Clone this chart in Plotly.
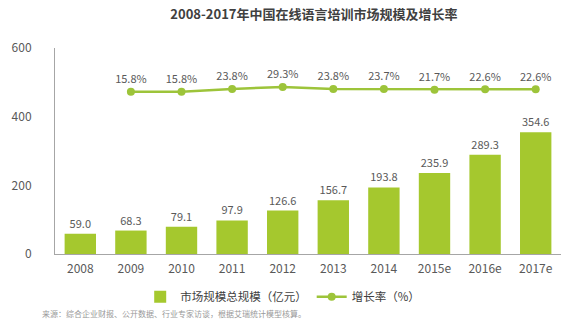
import plotly.graph_objects as go

years = ["2008", "2009", "2010", "2011", "2012", "2013", "2014", "2015e", "2016e", "2017e"]
market = [59.0, 68.3, 79.1, 97.9, 126.6, 156.7, 193.8, 235.9, 289.3, 354.6]
growth_years = ["2009", "2010", "2011", "2012", "2013", "2014", "2015e", "2016e", "2017e"]
growth = [15.8, 15.8, 23.8, 29.3, 23.8, 23.7, 21.7, 22.6, 22.6]

FONT = "Noto Sans CJK SC, Microsoft YaHei, sans-serif"
BAR_C = "#A5C82E"
LINE_C = "#9DC43A"

fig = go.Figure()
fig.add_trace(go.Bar(
    x=years, y=market, name="市场规模总规模（亿元）",
    marker=dict(color=BAR_C, line=dict(width=0)),
    text=[f"{v:.1f}" for v in market], textposition="outside",
    textfont=dict(size=11, color="#595959", family=FONT),
    cliponaxis=False, width=0.62,
))
fig.add_trace(go.Scatter(
    x=growth_years, y=growth, name="增长率（%）", yaxis="y2",
    mode="lines+markers+text",
    line=dict(color=LINE_C, width=2.5),
    marker=dict(color=LINE_C, size=8),
    text=[f"{v:.1f}%" for v in growth], textposition="top center",
    textfont=dict(size=11, color="#595959", family=FONT),
    cliponaxis=False,
))

fig.update_layout(
    width=576, height=323,
    margin=dict(l=41, r=15, t=48, b=68),
    paper_bgcolor="white", plot_bgcolor="white",
    font=dict(family=FONT, color="#595959"),
    title=dict(text="<b>2008-2017年中国在线语言培训市场规模及增长率</b>",
               x=0.545, xanchor="center", y=0.955, yanchor="middle",
               font=dict(size=13, color="#404040", family=FONT)),
    xaxis=dict(showgrid=False, showline=True, linecolor="#A6A6A6", linewidth=1,
               ticks="", tickfont=dict(size=12, color="#595959"),
               range=[-0.5, 9.5], ticklabelstandoff=4),
    yaxis=dict(range=[0, 600], tickvals=[0, 200, 400, 600], showgrid=False,
               showline=True, linecolor="#A6A6A6", linewidth=1, ticks="",
               zeroline=False, tickfont=dict(size=12, color="#595959"),
               ticklabelstandoff=20),
    yaxis2=dict(overlaying="y", range=[-425, 135], visible=False, showgrid=False),
    showlegend=True,
    legend=dict(orientation="h", x=0.45, xanchor="center", y=-0.208, yanchor="middle",
                font=dict(size=11.5, color="#404040"), itemwidth=30,
                bgcolor="rgba(0,0,0,0)"),
    bargap=0.38,
)
fig.add_annotation(
    text="来源：综合企业财报、公开数据、行业专家访谈，根据艾瑞统计模型核算。",
    xref="paper", yref="paper", x=-0.03, y=-0.25, xanchor="left", yanchor="top",
    showarrow=False, font=dict(size=8, color="#999999", family=FONT),
)

fig.write_html("out.html")
